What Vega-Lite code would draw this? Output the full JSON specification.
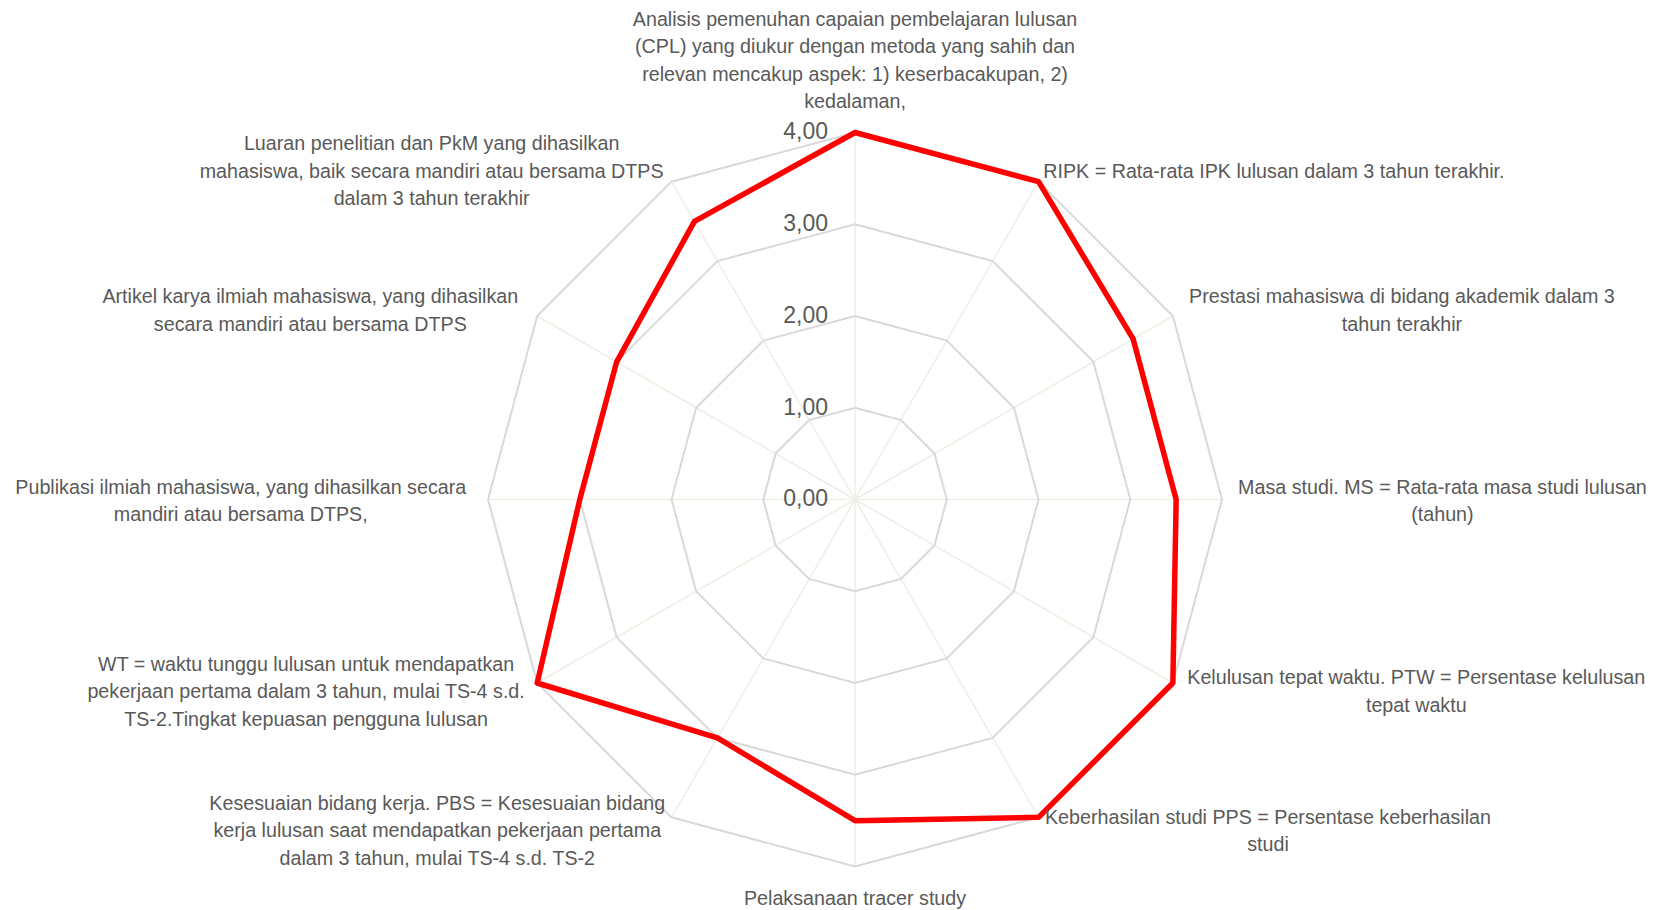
{
  "$schema": "https://vega.github.io/schema/vega-lite/v6.json",
  "width": 1654,
  "height": 910,
  "padding": 0,
  "autosize": {"type": "none"},
  "background": "#ffffff",
  "config": {
    "view": {"stroke": null},
    "locale": {"number": {"decimal": ",", "thousands": ".", "grouping": [3], "currency": ["Rp", ""]}}
  },
  "data": {
    "values": [
      {"kriteria": "Analisis pemenuhan capaian pembelajaran lulusan\n(CPL) yang diukur dengan metoda yang sahih dan\nrelevan mencakup aspek: 1) keserbacakupan, 2)\nkedalaman,", "urutan": 0, "nilai": 4},
      {"kriteria": "RIPK = Rata-rata IPK lulusan dalam 3 tahun terakhir.", "urutan": 1, "nilai": 4},
      {"kriteria": "Prestasi mahasiswa di bidang akademik dalam 3\ntahun terakhir", "urutan": 2, "nilai": 3.5},
      {"kriteria": "Masa studi. MS = Rata-rata masa studi lulusan\n(tahun)", "urutan": 3, "nilai": 3.5},
      {"kriteria": "Kelulusan tepat waktu. PTW = Persentase kelulusan\ntepat waktu", "urutan": 4, "nilai": 4},
      {"kriteria": "Keberhasilan studi PPS = Persentase keberhasilan\nstudi", "urutan": 5, "nilai": 4},
      {"kriteria": "Pelaksanaan tracer study", "urutan": 6, "nilai": 3.5},
      {"kriteria": "Kesesuaian bidang kerja. PBS = Kesesuaian bidang\nkerja lulusan saat mendapatkan pekerjaan pertama\ndalam 3 tahun, mulai TS-4 s.d. TS-2", "urutan": 7, "nilai": 3},
      {"kriteria": "WT = waktu tunggu lulusan untuk mendapatkan\npekerjaan pertama dalam 3 tahun, mulai TS-4 s.d.\nTS-2.Tingkat kepuasan pengguna lulusan", "urutan": 8, "nilai": 4},
      {"kriteria": "Publikasi ilmiah mahasiswa, yang dihasilkan secara\nmandiri atau bersama DTPS,", "urutan": 9, "nilai": 3},
      {"kriteria": "Artikel karya ilmiah mahasiswa, yang dihasilkan\nsecara mandiri atau bersama DTPS", "urutan": 10, "nilai": 3},
      {"kriteria": "Luaran penelitian dan PkM yang dihasilkan\nmahasiswa, baik secara mandiri atau bersama DTPS\ndalam 3 tahun terakhir", "urutan": 11, "nilai": 3.5}
    ]
  },
  "transform": [
    {"calculate": "datum.urutan * PI / 6", "as": "sudut"},
    {"calculate": "sin(datum.sudut)", "as": "s"},
    {"calculate": "cos(datum.sudut)", "as": "c"},
    {"calculate": "datum.nilai * datum.s", "as": "px"},
    {"calculate": "datum.nilai * datum.c", "as": "py"},
    {"calculate": "4 * datum.s", "as": "ox"},
    {"calculate": "4 * datum.c", "as": "oy"}
  ],
  "layer": [
    {
      "mark": {"type": "rule", "stroke": "#efeee4", "strokeWidth": 1.5},
      "encoding": {
        "x": {"field": "ox", "type": "quantitative", "scale": {"domain": [-9.319, 8.708], "nice": false, "zero": false}, "axis": null},
        "y": {"field": "oy", "type": "quantitative", "scale": {"domain": [-4.474, 5.444], "nice": false, "zero": false}, "axis": null},
        "x2": {"datum": 0},
        "y2": {"datum": 0}
      }
    },
    {
      "transform": [
        {"calculate": "[1, 2, 3, 4]", "as": "tingkat"},
        {"flatten": ["tingkat"]},
        {"calculate": "datum.tingkat * datum.s", "as": "gx"},
        {"calculate": "datum.tingkat * datum.c", "as": "gy"}
      ],
      "mark": {"type": "line", "interpolate": "linear-closed", "stroke": "#d9d9d9", "strokeWidth": 2},
      "encoding": {
        "x": {"field": "gx", "type": "quantitative", "scale": {"domain": [-9.319, 8.708], "nice": false, "zero": false}, "axis": null},
        "y": {"field": "gy", "type": "quantitative", "scale": {"domain": [-4.474, 5.444], "nice": false, "zero": false}, "axis": null},
        "detail": {"field": "tingkat", "type": "nominal"},
        "order": {"field": "urutan", "type": "quantitative"}
      }
    },
    {
      "mark": {"type": "line", "interpolate": "linear-closed", "stroke": "#ff0000", "strokeWidth": 5.5, "strokeJoin": "round"},
      "encoding": {
        "x": {"field": "px", "type": "quantitative", "scale": {"domain": [-9.319, 8.708], "nice": false, "zero": false}, "axis": null},
        "y": {"field": "py", "type": "quantitative", "scale": {"domain": [-4.474, 5.444], "nice": false, "zero": false}, "axis": null},
        "order": {"field": "urutan", "type": "quantitative"}
      }
    },
    {
      "data": {"values": [{"tingkat": 0}, {"tingkat": 1}, {"tingkat": 2}, {"tingkat": 3}, {"tingkat": 4}]},
      "mark": {"type": "text", "align": "right", "baseline": "middle", "dx": -27, "font": "Liberation Sans", "fontSize": 23, "fill": "#595959"},
      "encoding": {
        "x": {"datum": 0, "type": "quantitative", "scale": {"domain": [-9.319, 8.708], "nice": false, "zero": false}, "axis": null},
        "y": {"field": "tingkat", "type": "quantitative", "scale": {"domain": [-4.474, 5.444], "nice": false, "zero": false}, "axis": null},
        "text": {"field": "tingkat", "type": "quantitative", "format": ".2f"}
      }
    },
    {
      "transform": [
        {"calculate": "split(datum.kriteria, '\\n')", "as": "baris"},
        {"calculate": "length(datum.baris)", "as": "nbaris"},
        {"flatten": ["baris"]},
        {"window": [{"op": "row_number", "as": "nomor"}], "groupby": ["urutan"]},
        {"calculate": "length(datum.baris)", "as": "nh"},
        {"calculate": "datum.nh - length(replace(datum.baris, regexp('[ijltfrI .,:;()-]', 'g'), ''))", "as": "nsempit"},
        {"calculate": "datum.nh - length(replace(datum.baris, regexp('[mwMW]', 'g'), ''))", "as": "nlebar"},
        {"calculate": "datum.nh - length(replace(datum.baris, regexp('[A-HJ-LN-VX-Z]', 'g'), ''))", "as": "nkapital"},
        {"calculate": "(0.54 * datum.nh - 0.25 * datum.nsempit + 0.31 * datum.nlebar + 0.15 * datum.nkapital) * 19.2", "as": "lebar"},
        {"joinaggregate": [{"op": "max", "field": "lebar", "as": "lebarmaks"}], "groupby": ["urutan"]},
        {"calculate": "abs(datum.s) < 0.01 ? 0 : 4 * datum.s + (datum.s > 0 ? 1 : -1) * (18.2 * abs(datum.s) + 0.3 + datum.lebarmaks / 2) / 91.75", "as": "lx"},
        {"calculate": "(abs(datum.s) < 0.01 ? (datum.c > 0 ? 4 + (16.5 + (datum.nbaris - 0.5) * 27.5) / 91.75 : -4 - (19 + 13.75) / 91.75) : 4 * datum.c + (14 * datum.c - 2 + (datum.nbaris - 1) * 13.75) / 91.75) - (datum.nomor - 1) * 27.5 / 91.75", "as": "ly"}
      ],
      "mark": {"type": "text", "align": "center", "baseline": "middle", "font": "Liberation Sans", "fontSize": 19.7, "fill": "#595959"},
      "encoding": {
        "x": {"field": "lx", "type": "quantitative", "scale": {"domain": [-9.319, 8.708], "nice": false, "zero": false}, "axis": null},
        "y": {"field": "ly", "type": "quantitative", "scale": {"domain": [-4.474, 5.444], "nice": false, "zero": false}, "axis": null},
        "text": {"field": "baris", "type": "nominal"}
      }
    }
  ]
}
